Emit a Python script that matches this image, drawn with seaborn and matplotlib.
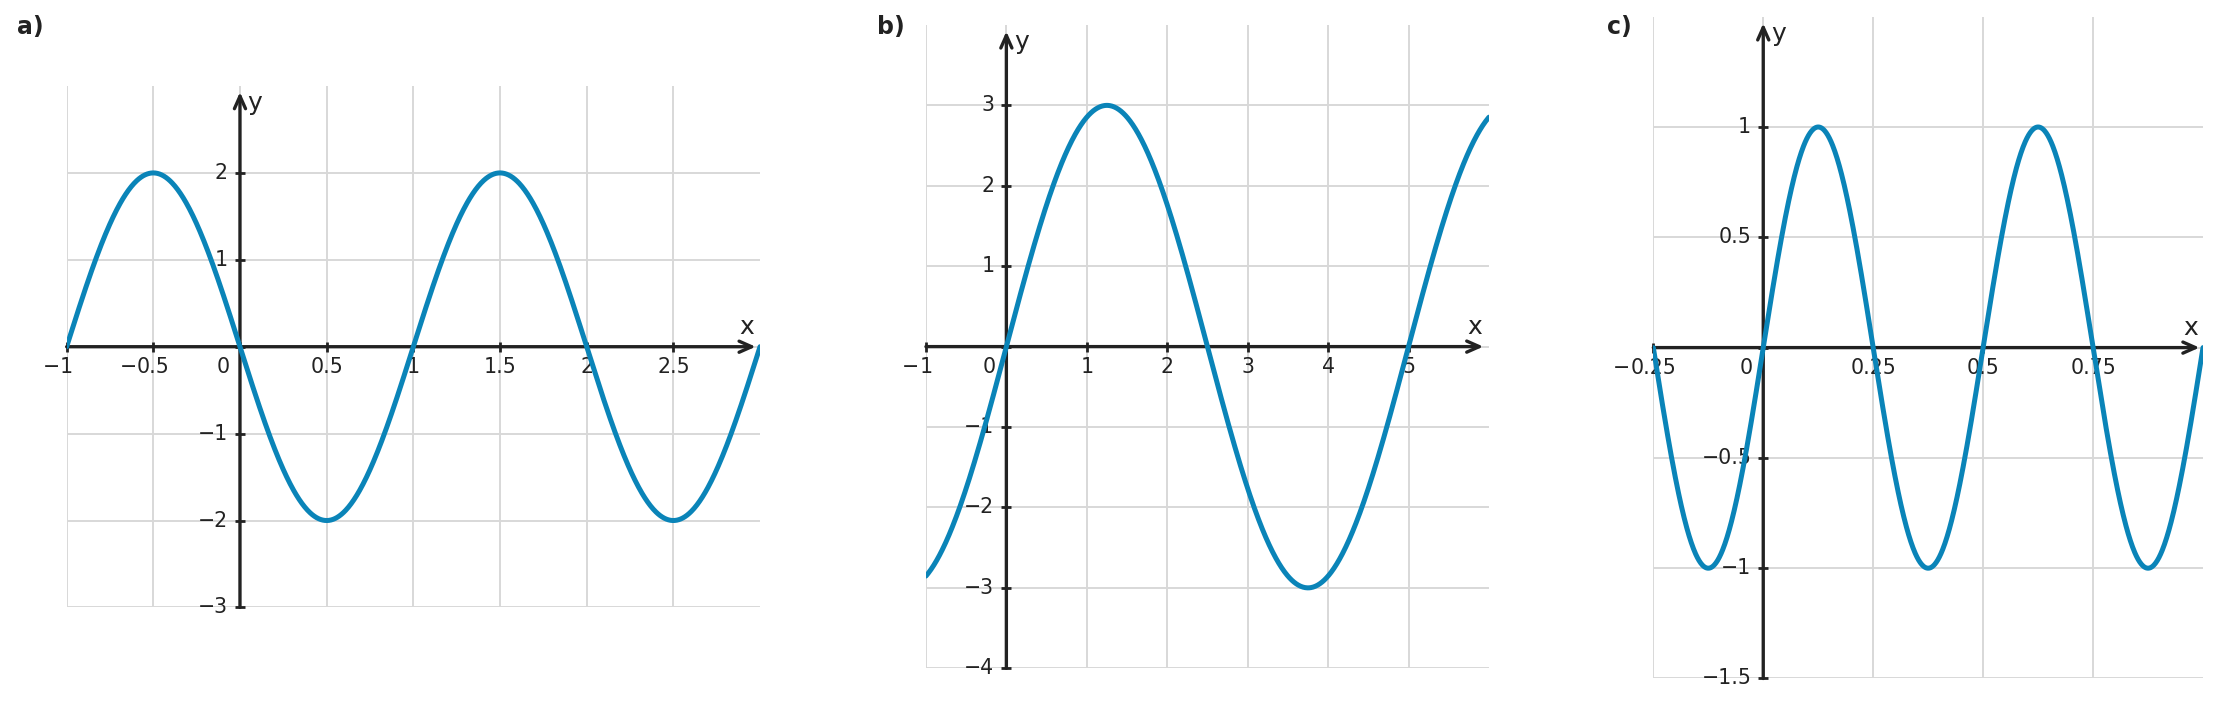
import numpy as np
import pandas as pd
import matplotlib
matplotlib.use("Agg")
import matplotlib.pyplot as plt
import seaborn as sns

# three sine graphs: y = amplitude * sin(2*pi*x / period)
panel_names = ["a)", "b)", "c)"]
amplitudes = [-2, 3, 1]
periods = [2, 5, 0.5]

x_limits = [(-1, 3), (-1, 6), (-0.25, 1)]
y_limits = [(-3, 3), (-4, 4), (-1.5, 1.5)]
x_ticks = [[-1, -0.5, 0, 0.5, 1, 1.5, 2, 2.5],
           [-1, 0, 1, 2, 3, 4, 5],
           [-0.25, 0, 0.25, 0.5, 0.75]]
y_ticks = [[-3, -2, -1, 0, 1, 2],
           [-4, -3, -2, -1, 0, 1, 2, 3],
           [-1.5, -1, -0.5, 0, 0.5, 1]]

# where the axis arrows end
arrow_tip_x = [2.975, 5.93, 0.992]
arrow_tip_y = [2.93, 3.92, 1.47]

# axes rectangles in figure fraction
rects = [(0.0300, 0.1384, 0.3122, 0.7396),
         (0.4169, 0.0521, 0.2535, 0.9125),
         (0.7444, 0.0376, 0.2475, 0.9387)]
label_x = [0.0077, 0.3949, 0.7235]

curve_color = "#0a84b8"
axis_color = "#222222"
grid_color = "#d8d8d8"
text_color = "#222222"
tick_size = 14.8

sns.set_theme(style="white")
plt.rcParams["font.family"] = ["DejaVu Sans"]

fig = plt.figure(figsize=(22.21, 7.05), dpi=100)

for i in range(3):
    ax = fig.add_axes(rects[i])
    xs = np.linspace(x_limits[i][0], x_limits[i][1], 1000)
    df = pd.DataFrame({"x": xs,
                       "y": amplitudes[i] * np.sin(2 * np.pi * xs / periods[i])})
    sns.lineplot(data=df, x="x", y="y", ax=ax, color=curve_color,
                 linewidth=3.6, zorder=5)

    ax.set_xlim(x_limits[i])
    ax.set_ylim(y_limits[i])
    ax.set_xticks(x_ticks[i])
    ax.set_yticks(y_ticks[i])
    ax.set_xlabel("")
    ax.set_ylabel("")
    ax.grid(True, color=grid_color, linewidth=1.4)
    ax.set_axisbelow(True)

    # ticks sit on the axes through the origin
    ax.spines["left"].set_position(("data", 0))
    ax.spines["bottom"].set_position(("data", 0))
    for s in ax.spines.values():
        s.set_visible(False)
    ax.tick_params(bottom=True, left=True, top=False, right=False,
                   direction="inout", length=6.7, width=2, color=axis_color,
                   labelbottom=False, labelleft=False)

    # axis lines with open arrow heads
    arrow = dict(arrowstyle="->,head_length=0.9,head_width=0.4", lw=2.4,
                 color=axis_color, shrinkA=0, shrinkB=0, mutation_scale=10)
    ax.annotate("", xy=(arrow_tip_x[i], 0), xytext=(x_limits[i][0], 0),
                arrowprops=arrow, annotation_clip=False, zorder=3)
    ax.annotate("", xy=(0, arrow_tip_y[i]), xytext=(0, y_limits[i][0]),
                arrowprops=arrow, annotation_clip=False, zorder=3)

    ax.annotate("x", xy=(arrow_tip_x[i], 0), xytext=(-9, 20),
                textcoords="offset pixels", ha="center", va="center",
                fontsize=18, color=text_color)
    ax.annotate("y", xy=(0, arrow_tip_y[i]), xytext=(15, -11),
                textcoords="offset pixels", ha="center", va="center",
                fontsize=18, color=text_color)

    # x tick labels: number centred on the tick, minus sign hanging left
    for v in x_ticks[i]:
        if v == 0:
            ax.annotate("0", xy=(0, 0), xytext=(-17, -26),
                        textcoords="offset pixels", ha="center",
                        va="baseline", fontsize=tick_size, color=text_color,
                        zorder=4)
            continue
        t = ax.annotate(f"{abs(v):g}", xy=(v, 0), xytext=(0, -26),
                        textcoords="offset pixels", ha="center",
                        va="baseline", fontsize=tick_size, color=text_color,
                        zorder=4, annotation_clip=False)
        if v < 0:
            ax.annotate("\u2212", xy=(0, 0), xycoords=t, ha="right",
                        va="bottom", fontsize=tick_size, color=text_color,
                        zorder=4, annotation_clip=False)

    # y tick labels to the left of the axis
    for v in y_ticks[i]:
        if v == 0:
            continue
        lab = ("\u2212" if v < 0 else "") + f"{abs(v):g}"
        ax.annotate(lab, xy=(0, v), xytext=(-12, -6),
                    textcoords="offset pixels", ha="right", va="baseline",
                    fontsize=tick_size, color=text_color, zorder=4,
                    annotation_clip=False)

    fig.text(label_x[i], 0.9617, panel_names[i], fontsize=17,
             fontweight="bold", ha="left", va="center", color=text_color)

fig.savefig("out.png", dpi=100)
